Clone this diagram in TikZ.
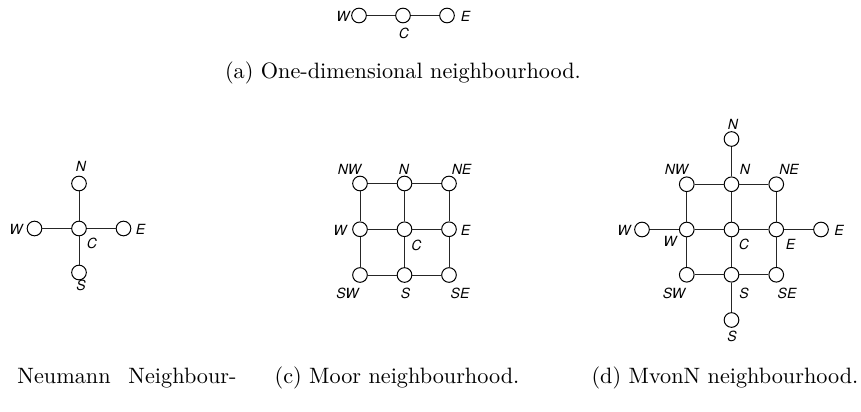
\documentclass[tikz,border=0pt]{standalone}
\usepackage{fontspec}
\newfontfamily\labfont{TeX Gyre Heros}
\begin{document}
\begin{tikzpicture}[x=0.45pt,y=-0.45pt,
  site/.style={circle,draw=black,fill=white,line width=0.45pt,minimum size=6.6pt,inner sep=0pt},
  lab/.style={font=\labfont\itshape\fontsize{6.3}{7.5}\selectfont,inner sep=0pt},
  captext/.style={font=\fontsize{10}{12}\selectfont,anchor=base,inner sep=0pt},
  link/.style={draw=black!85,line width=0.45pt}]
\useasboundingbox (0,0) rectangle (861,411);
\clip (0,0) rectangle (861,411);

% ---------- (a) one-dimensional ----------
\node[site] (aW) at (359,15.5) {};
\node[site] (aC) at (403,15.5) {};
\node[site] (aE) at (447,15.5) {};
\draw[link] (aW) -- (aC) (aC) -- (aE);
\node[lab] (aWl) at (343,16) {W};
\node[lab] (aCl) at (404,33) {C};
\node[lab] (aEl) at (465.5,16) {E};
\node[captext] (capa) at (403,78) {(a) One-dimensional neighbourhood.};

% ---------- (b) von Neumann ----------
\node[site] (bN) at (79,183.5) {};
\node[site] (bW) at (34.5,228.5) {};
\node[site] (bC) at (79,228.5) {};
\node[site] (bE) at (123.5,228.5) {};
\node[site] (bS) at (79,272.5) {};
\draw[link] (bN) -- (bC) (bC) -- (bS) (bW) -- (bC) (bC) -- (bE);
\node[lab] (bNl) at (81,166) {N};
\node[lab] (bWl) at (16,229) {W};
\node[lab] (bEl) at (140.5,229) {E};
\node[lab] (bCl) at (92,243.5) {C};
\node[lab] (bSl) at (81,285.5) {S};
\node[captext,anchor=base east] (capb) at (237,383.5) {(b)\hspace{8pt}Von\hspace{8pt}Neumann\hspace{8pt}Neighbour-};

% ---------- (c) Moore ----------
\node[site] (cNW) at (360,183.5) {};
\node[site] (cN)  at (404.5,183.5) {};
\node[site] (cNE) at (449,183.5) {};
\node[site] (cW)  at (360,229.25) {};
\node[site] (cC)  at (404.5,229.25) {};
\node[site] (cE)  at (449,229.25) {};
\node[site] (cSW) at (360,275) {};
\node[site] (cS)  at (404.5,275) {};
\node[site] (cSE) at (449,275) {};
\draw[link] (cNW) -- (cN) (cN) -- (cNE) (cW) -- (cC) (cC) -- (cE) (cSW) -- (cS) (cS) -- (cSE)
            (cNW) -- (cW) (cW) -- (cSW) (cN) -- (cC) (cC) -- (cS) (cNE) -- (cE) (cE) -- (cSE);
\node[lab] (cNWl) at (349.5,169) {NW};
\node[lab] (cNl)  at (404,169) {N};
\node[lab] (cNEl) at (461.5,169) {NE};
\node[lab] (cWl)  at (340,230.5) {W};
\node[lab] (cEl)  at (465.5,230.5) {E};
\node[lab] (cCl)  at (416.5,245.5) {C};
\node[lab] (cSWl) at (347.5,293.5) {SW};
\node[lab] (cSl)  at (405.5,293.5) {S};
\node[lab] (cSEl) at (460,293.5) {SE};
\node[captext] (capc) at (397,383.5) {(c) Moor neighbourhood.};

% ---------- (d) MvonN ----------
\node[site] (dNN) at (731.5,139) {};
\node[site] (dNW) at (686.75,184.25) {};
\node[site] (dN)  at (731.5,184.25) {};
\node[site] (dNE) at (776.25,184.25) {};
\node[site] (dWW) at (642,229.5) {};
\node[site] (dW)  at (686.75,229.5) {};
\node[site] (dC)  at (731.5,229.5) {};
\node[site] (dE)  at (776.25,229.5) {};
\node[site] (dEE) at (821,229.5) {};
\node[site] (dSW) at (686.75,274.75) {};
\node[site] (dS)  at (731.5,274.75) {};
\node[site] (dSE) at (776.25,274.75) {};
\node[site] (dSS) at (731.5,320) {};
\draw[link] (dNW) -- (dN) (dN) -- (dNE) (dW) -- (dC) (dC) -- (dE) (dSW) -- (dS) (dS) -- (dSE)
            (dNW) -- (dW) (dW) -- (dSW) (dN) -- (dC) (dC) -- (dS) (dNE) -- (dE) (dE) -- (dSE)
            (dNN) -- (dN) (dS) -- (dSS) (dWW) -- (dW) (dE) -- (dEE);
\node[lab] (dNNl) at (733,124) {N};
\node[lab] (dNWl) at (676.5,169) {NW};
\node[lab] (dNl)  at (745,169) {N};
\node[lab] (dNEl) at (789,169) {NE};
\node[lab] (dWWl) at (624,230.5) {W};
\node[lab] (dWl)  at (670,241.5) {W};
\node[lab] (dCl)  at (744,244) {C};
\node[lab] (dEl)  at (790.5,244) {E};
\node[lab] (dEEl) at (839,230.5) {E};
\node[lab] (dSWl) at (674,293.5) {SW};
\node[lab] (dSl)  at (744,293.5) {S};
\node[lab] (dSEl) at (787,293.5) {SE};
\node[lab] (dSSl) at (732,336) {S};
\node[captext] (capd) at (725,383.5) {(d) MvonN neighbourhood.};
\end{tikzpicture}
\end{document}
